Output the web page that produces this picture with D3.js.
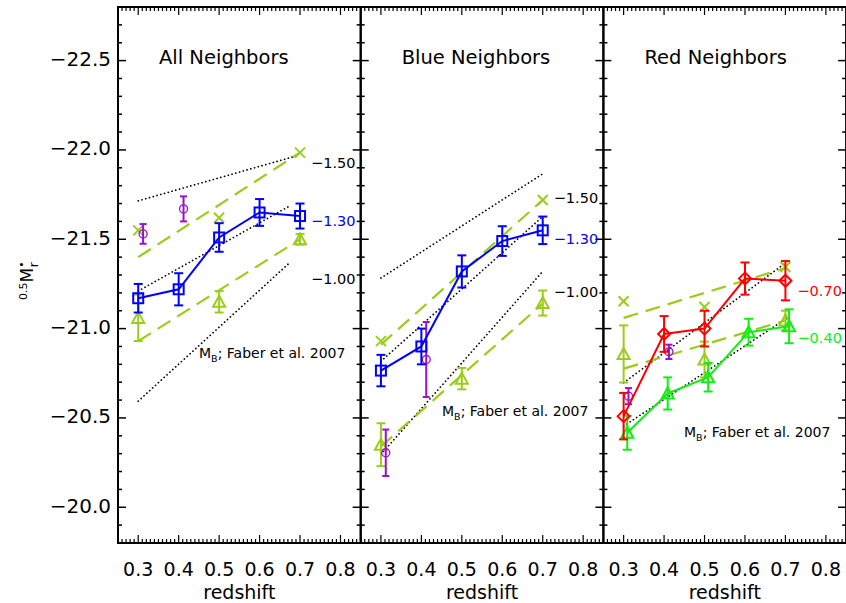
<!DOCTYPE html>
<html><head><meta charset="utf-8">
<script src="https://cdn.jsdelivr.net/npm/d3@7"></script>
<style>body{margin:0;background:#fff}svg{display:block}text{font-family:"DejaVu Sans",sans-serif}</style>
</head><body><svg id="c" width="846" height="603"></svg>
<script>
// ---------------- data ----------------
const panelTitles = ["All Neighbors", "Blue Neighbors", "Red Neighbors"];
const xTickLabels = [0.3, 0.4, 0.5, 0.6, 0.7, 0.8];
const yTickLabels = [-22.5, -22.0, -21.5, -21.0, -20.5, -20.0];
const zAll = [0.3, 0.4, 0.5, 0.6, 0.7];
const zPair = [0.3, 0.4];
const zOdd = [0.3, 0.5, 0.7];

// All neighbours
const allSq = [-21.17, -21.22, -21.51, -21.65, -21.63];
const allSqErr = [0.08, 0.09, 0.08, 0.075, 0.07];
const allCirc = [-21.53, -21.67];
const allCircErr = [0.055, 0.07];
const allX = [-21.55, -21.62, -21.985];
const allTri = [-21.06, -21.15, -21.50];
const allTriErr = [0.13, 0.06, 0.03];
const allDashA = [[0.3, -21.40], [0.7, -21.985]];
const allDashB = [[0.3, -20.93], [0.7, -21.50]];
const allDotA = [[0.3, -21.715], [0.69, -21.966]];
const allDotB = [[0.3, -21.21], [0.675, -21.687]];
const allDotC = [[0.3, -20.594], [0.675, -21.37]];

// Blue neighbours
const blueSq = [-20.765, -20.90, -21.32, -21.49, -21.55];
const blueSqErr = [0.088, 0.10, 0.09, 0.083, 0.077];
const blueCirc = [-20.305, -20.827];
const blueCircErr = [0.13, 0.21];
const blueX = [-20.93, null, -21.72];
const blueTri = [-20.35, -20.72, -21.143];
const blueTriErr = [0.12, 0.06, 0.07];
const blueDashA = [[0.3, -20.91], [0.7, -21.72]];
const blueDashB = [[0.3, -20.34], [0.7, -21.14]];
const blueDotA = [[0.3, -21.283], [0.7, -21.866]];
const blueDotB = [[0.3, -20.817], [0.7, -21.627]];
const blueDotC = [[0.3, -20.296], [0.7, -21.32]];

// Red neighbours
const redDia = [-20.51, -20.97, -21.0, -21.28, -21.268];
const redDiaErr = [0.13, 0.10, 0.10, 0.09, 0.11];
const redGreen = [-20.417, -20.637, -20.728, -20.98, -21.013];
const redGreenErr = [0.095, 0.09, 0.08, 0.075, 0.095];
const redCirc = [-20.622, -20.87];
const redCircErr = [0.045, 0.04];
const redX = [-21.153, -21.121, -21.345];
const redTri = [-20.858, -20.827, -21.045];
const redTriErr = [0.16, 0.10, 0.055];
const redDashA = [[0.3, -21.06], [0.7, -21.339]];
const redDashB = [[0.3, -20.776], [0.7, -21.045]];
const redDotA = [[0.3, -20.697], [0.7, -21.367]];
const redDotB = [[0.3, -20.454], [0.71, -21.068]];

// ---------------- drawing ----------------
const C = {blue:"#0000ff", purple:"#9a10d0", yg:"#9acd1a", red:"#ff0000", green:"#11ee11", black:"#000"};
const svg = d3.select("#c");
const yTop = 7, yBot = 543, x0 = 118, pw = 242.7;
const y = d3.scaleLinear().domain([-22.8, -19.8]).range([yTop, yBot]);

function panel(i, draw) {
  const left = x0 + i * pw;
  const x = d3.scaleLinear().domain([0.25, 0.85]).range([left, left + pw]);
  const g = svg.append("g");
  const xt = d3.range(25, 86).map(v => v / 100);
  xt.forEach(v => {
    const maj = Math.abs(v * 10 - Math.round(v * 10)) < 1e-6;
    const L = maj ? 8 : 4;
    g.append("line").attr("x1", x(v)).attr("x2", x(v)).attr("y1", yBot).attr("y2", yBot - L).attr("stroke", "#000").attr("stroke-width", 1.2);
    g.append("line").attr("x1", x(v)).attr("x2", x(v)).attr("y1", yTop).attr("y2", yTop + L).attr("stroke", "#000").attr("stroke-width", 1.2);
  });
  const yt = d3.range(-228, -197).map(v => v / 10);
  yt.forEach(v => {
    const maj = Math.abs(v * 2 - Math.round(v * 2)) < 1e-6;
    const L = maj ? 8 : 4;
    g.append("line").attr("x1", left).attr("x2", left + L).attr("y1", y(v)).attr("y2", y(v)).attr("stroke", "#000").attr("stroke-width", 1.5);
    g.append("line").attr("x1", left + pw).attr("x2", left + pw - L).attr("y1", y(v)).attr("y2", y(v)).attr("stroke", "#000").attr("stroke-width", 1.5);
  });
  g.append("rect").attr("x", left).attr("y", yTop).attr("width", pw).attr("height", yBot - yTop)
    .attr("fill", "none").attr("stroke", "#000").attr("stroke-width", 2);
  xTickLabels.forEach(v => {
    g.append("text").attr("x", x(v)).attr("y", 576).attr("text-anchor", "middle").attr("font-size", 19).text(v.toFixed(1));
  });
  g.append("text").attr("x", left + pw / 2).attr("y", 599).attr("text-anchor", "middle").attr("font-size", 19).text("redshift");
  g.append("text").attr("x", left + 41).attr("y", 64).attr("font-size", 19.5).text(panelTitles[i]);
  draw(g, x);
}

function line2(g, x, pts, color, dash, w, cap) {
  g.append("path").attr("d", d3.line().x(d => x(d[0])).y(d => y(d[1]))(pts))
    .attr("fill", "none").attr("stroke", color).attr("stroke-width", w).attr("stroke-dasharray", dash)
    .attr("stroke-linecap", cap);
}
function dotted(g, x, pts) { line2(g, x, pts, "#000", "0.1,3.8", 1.7, "round"); }
function dashed(g, x, pts) { line2(g, x, pts, C.yg, "15,8", 2.2, "butt"); }
function errbars(g, x, zs, vals, errs, color, cap, off) {
  zs.forEach((z, k) => {
    if (vals[k] == null) return;
    const cx = x(z + off), a = y(vals[k] - errs[k]), b = y(vals[k] + errs[k]);
    g.append("line").attr("x1", cx).attr("x2", cx).attr("y1", a).attr("y2", b).attr("stroke", color).attr("stroke-width", 2);
    [a, b].forEach(yy => g.append("line").attr("x1", cx - cap).attr("x2", cx + cap).attr("y1", yy).attr("y2", yy).attr("stroke", color).attr("stroke-width", 2));
  });
}
function connect(g, x, zs, vals, color, off) {
  g.append("path").attr("d", d3.line().x((d, k) => x(zs[k] + off)).y(d => y(d))(vals))
    .attr("fill", "none").attr("stroke", color).attr("stroke-width", 2);
}
function markers(g, x, zs, vals, shape, color, off) {
  zs.forEach((z, k) => {
    if (vals[k] == null) return;
    const cx = x(z + off), cy = y(vals[k]);
    let p;
    if (shape === "square") p = g.append("rect").attr("x", cx - 5).attr("y", cy - 5).attr("width", 10).attr("height", 10);
    else if (shape === "circle") p = g.append("circle").attr("cx", cx).attr("cy", cy).attr("r", 4);
    else if (shape === "diamond") p = g.append("path").attr("d", `M${cx},${cy - 6}L${cx + 6},${cy}L${cx},${cy + 6}L${cx - 6},${cy}Z`);
    else if (shape === "tri") p = g.append("path").attr("d", `M${cx},${cy - 6}L${cx + 6},${cy + 5}L${cx - 6},${cy + 5}Z`);
    else if (shape === "x") p = g.append("path").attr("d", `M${cx - 5},${cy - 5}L${cx + 5},${cy + 5}M${cx - 5},${cy + 5}L${cx + 5},${cy - 5}`);
    p.attr("fill", "none").attr("stroke", color).attr("stroke-width", shape === "circle" ? 1.3 : 2);
  });
}
function note(g, xx, yy, txt, color) {
  g.append("text").attr("x", xx).attr("y", yy).attr("font-size", 14.5).attr("fill", color).attr("dominant-baseline", "middle").text(txt);
}
function faber(g, xx, yy) {
  const t = g.append("text").attr("x", xx).attr("y", yy).attr("font-size", 14);
  t.append("tspan").text("M");
  t.append("tspan").attr("font-size", 9.5).attr("dy", 4).text("B");
  t.append("tspan").attr("dy", -4).text("; Faber et al. 2007");
}
const cOff = 0.012, gOff = 0.009;

panel(0, (g, x) => {
  [allDotA, allDotB, allDotC].forEach(p => dotted(g, x, p));
  [allDashA, allDashB].forEach(p => dashed(g, x, p));
  errbars(g, x, zOdd, allTri, allTriErr, C.yg, 4.5, 0);
  markers(g, x, zOdd, allTri, "tri", C.yg, 0);
  markers(g, x, zOdd, allX, "x", C.yg, 0);
  errbars(g, x, zPair, allCirc, allCircErr, C.purple, 3.5, cOff);
  markers(g, x, zPair, allCirc, "circle", C.purple, cOff);
  connect(g, x, zAll, allSq, C.blue, 0);
  errbars(g, x, zAll, allSq, allSqErr, C.blue, 4.5, 0);
  markers(g, x, zAll, allSq, "square", C.blue, 0);
  note(g, x(0.7) + 11, 164, "\u22121.50", "#000");
  note(g, x(0.7) + 11, 222, "\u22121.30", C.blue);
  note(g, x(0.7) + 11, 280, "\u22121.00", "#000");
  faber(g, 199, 358);
});
panel(1, (g, x) => {
  [blueDotA, blueDotB, blueDotC].forEach(p => dotted(g, x, p));
  [blueDashA, blueDashB].forEach(p => dashed(g, x, p));
  errbars(g, x, zOdd, blueTri, blueTriErr, C.yg, 4.5, 0);
  markers(g, x, zOdd, blueTri, "tri", C.yg, 0);
  markers(g, x, zOdd, blueX, "x", C.yg, 0);
  errbars(g, x, zPair, blueCirc, blueCircErr, C.purple, 3.5, cOff);
  markers(g, x, zPair, blueCirc, "circle", C.purple, cOff);
  connect(g, x, zAll, blueSq, C.blue, 0);
  errbars(g, x, zAll, blueSq, blueSqErr, C.blue, 4.5, 0);
  markers(g, x, zAll, blueSq, "square", C.blue, 0);
  note(g, x(0.7) + 11, 199, "\u22121.50", "#000");
  note(g, x(0.7) + 11, 240, "\u22121.30", C.blue);
  note(g, x(0.7) + 11, 293, "\u22121.00", "#000");
  faber(g, 442, 416);
});
panel(2, (g, x) => {
  [redDotA, redDotB].forEach(p => dotted(g, x, p));
  [redDashA, redDashB].forEach(p => dashed(g, x, p));
  errbars(g, x, zOdd, redTri, redTriErr, C.yg, 4.5, 0);
  markers(g, x, zOdd, redTri, "tri", C.yg, 0);
  markers(g, x, zOdd, redX, "x", C.yg, 0);
  errbars(g, x, zPair, redCirc, redCircErr, C.purple, 3.5, cOff);
  markers(g, x, zPair, redCirc, "circle", C.purple, cOff);
  connect(g, x, zAll, redGreen, C.green, gOff);
  errbars(g, x, zAll, redGreen, redGreenErr, C.green, 4.5, gOff);
  markers(g, x, zAll, redGreen, "tri", C.green, gOff);
  connect(g, x, zAll, redDia, C.red, 0);
  errbars(g, x, zAll, redDia, redDiaErr, C.red, 4.5, 0);
  markers(g, x, zAll, redDia, "diamond", C.red, 0);
  note(g, x(0.7) + 12, 292, "\u22120.70", C.red);
  note(g, x(0.7) + 12, 339, "\u22120.40", C.green);
  faber(g, 684, 437);
});

yTickLabels.forEach(v => {
  svg.append("text").attr("x", 111).attr("y", y(v)).attr("dominant-baseline", "middle").attr("text-anchor", "end")
    .attr("font-size", 20).text("\u2212" + Math.abs(v).toFixed(1));
});
const yl = svg.append("text").attr("transform", "translate(33,300) rotate(-90)").attr("font-size", 17);
yl.append("tspan").attr("font-size", 11).attr("dy", -6).text("0.5");
yl.append("tspan").attr("dy", 6).text("M");
yl.append("tspan").attr("font-size", 11).attr("dy", -8).text("\u2022");
yl.append("tspan").attr("font-size", 12).attr("dx", -6).attr("dy", 13).text("r");
</script></body></html>
